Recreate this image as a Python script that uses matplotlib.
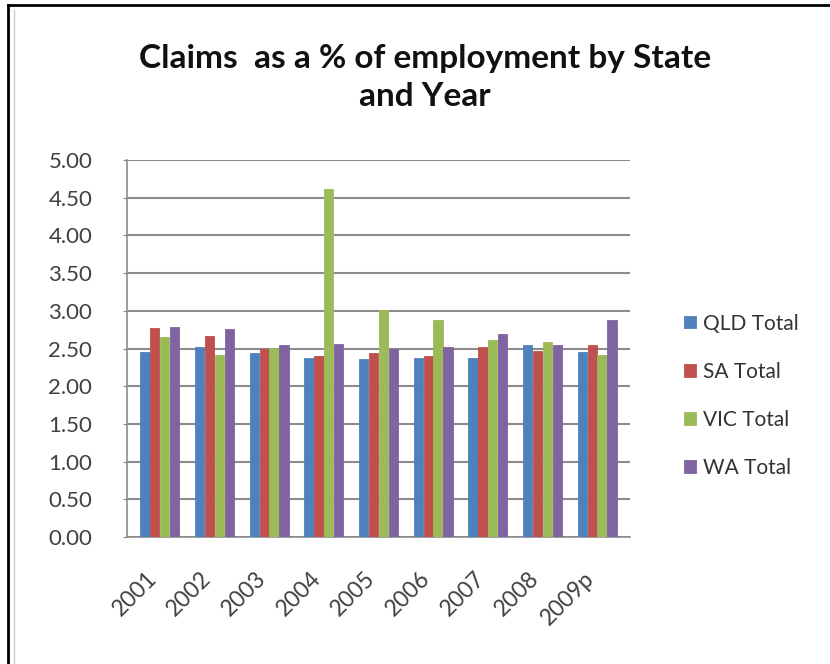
import numpy as np
import matplotlib.pyplot as plt
import matplotlib.transforms as mtransforms
from matplotlib.lines import Line2D

plt.rcParams['font.family'] = ['Lato', 'DejaVu Sans']

# claims as a % of employment, by year and state
years = ['2001', '2002', '2003', '2004', '2005', '2006', '2007', '2008', '2009p']
qld = [2.45, 2.52, 2.44, 2.38, 2.36, 2.37, 2.38, 2.55, 2.45]
sa = [2.77, 2.67, 2.49, 2.40, 2.44, 2.40, 2.52, 2.47, 2.55]
vic = [2.66, 2.41, 2.51, 4.62, 3.01, 2.88, 2.62, 2.59, 2.41]
wa = [2.78, 2.76, 2.55, 2.56, 2.49, 2.52, 2.70, 2.55, 2.88]

series = [('QLD Total', qld, '#4F81BD'),
          ('SA Total', sa, '#C0504D'),
          ('VIC Total', vic, '#9BBB59'),
          ('WA Total', wa, '#8064A2')]

fig = plt.figure(figsize=(8.3, 6.64), dpi=100)
ax = fig.add_axes([0.153, 0.191, 0.606, 0.568])

x = np.arange(len(years))
w = 0.18
for i, (name, vals, col) in enumerate(series):
    ax.bar(x + (i - 1.5) * w, vals, width=w * 0.94, color=col,
           edgecolor=col, linewidth=0.6, label=name, zorder=3)

ax.set_ylim(0, 5)
ax.set_xlim(-0.6, len(years) - 0.4)
ax.set_yticks(np.arange(0, 5.01, 0.5))
ax.set_yticklabels([f'{v:.2f}' for v in np.arange(0, 5.01, 0.5)],
                   fontsize=16, color='#404040')
ax.set_xticks(x)
ax.set_xticklabels(years, rotation=45, ha='right', rotation_mode='anchor',
                   fontsize=16.5, color='#404040')
ax.tick_params(axis='x', length=0, pad=22)
ax.tick_params(axis='y', length=3, color='#888888', pad=22)
# nudge the slanted year labels a little to the left
shift = mtransforms.ScaledTranslation(-14 / 100, 0, fig.dpi_scale_trans)
for lbl in ax.get_xticklabels():
    lbl.set_transform(lbl.get_transform() + shift)
ax.grid(axis='y', color='#8c8c8c', linewidth=1.5, zorder=0)
for s in ['top', 'right']:
    ax.spines[s].set_visible(False)
for s in ['left', 'bottom']:
    ax.spines[s].set_color('#8c8c8c')
    ax.spines[s].set_linewidth(1.2)

fig.suptitle('Claims  as a % of employment by State\nand Year',
             x=0.512, y=0.934, fontsize=24, fontweight='bold', color='#111111',
             linespacing=1.4)

leg = fig.legend(loc='upper left', bbox_to_anchor=(0.802, 0.556),
                 frameon=False, fontsize=15, handlelength=0.55,
                 handleheight=0.55, handletextpad=0.35, labelspacing=1.35,
                 labelcolor='#333333')

# dark frame on top and left edges of the image
fig.add_artist(Line2D([0.010, 0.010], [0.0, 0.993], transform=fig.transFigure,
                      color='black', linewidth=2))
fig.add_artist(Line2D([0.010, 1.0], [0.993, 0.993], transform=fig.transFigure,
                      color='black', linewidth=2))
fig.add_artist(Line2D([0.017, 0.017], [0.0, 0.985], transform=fig.transFigure,
                      color='#cccccc', linewidth=1))

fig.savefig('out.png', dpi=100)
